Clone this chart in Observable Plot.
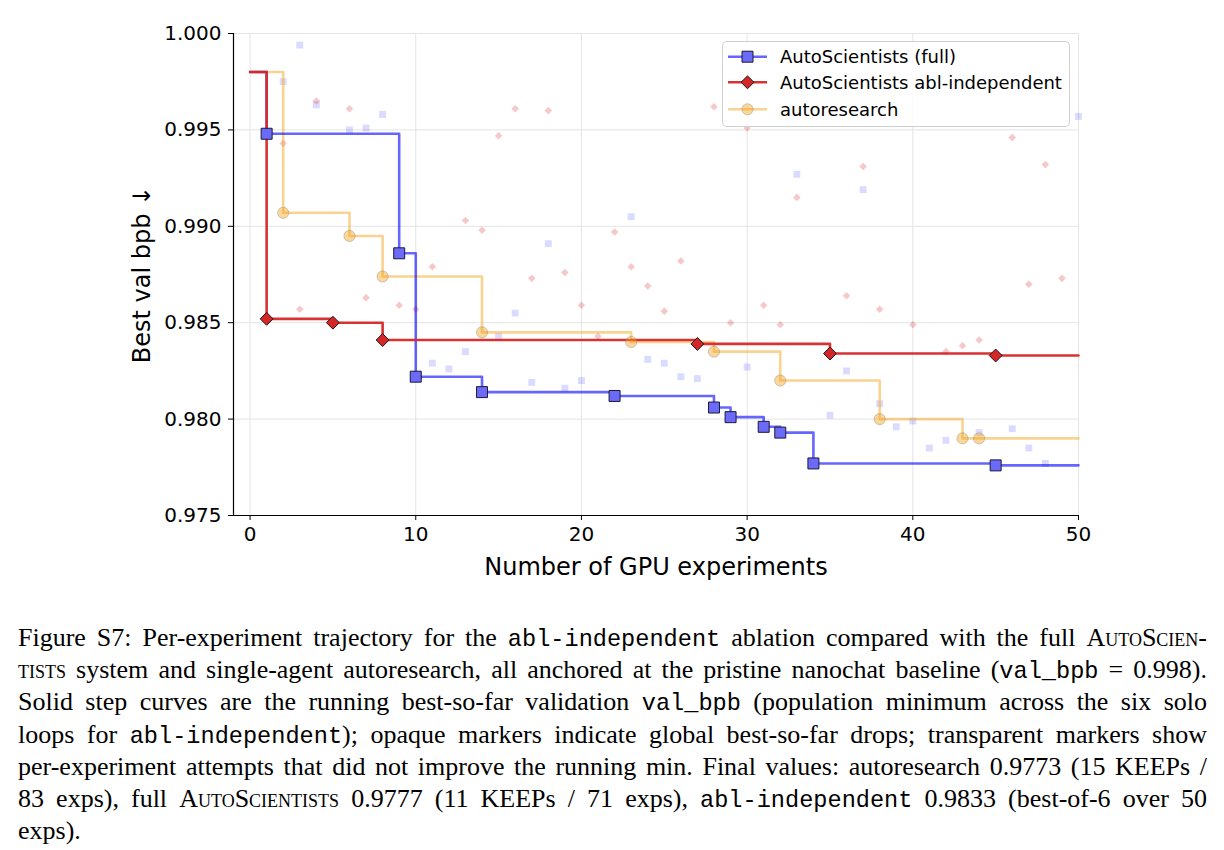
<!DOCTYPE html>
<html>
<head>
<meta charset="utf-8">
<script src="https://cdn.jsdelivr.net/npm/d3@7"></script>
<script src="https://cdn.jsdelivr.net/npm/@observablehq/plot@0.6"></script>
<style>
  body { margin: 0; background: #fff; width: 1224px; height: 850px; position: relative; overflow: hidden; }
  #chart { position: absolute; left: 0; top: 0; }
  #legend { position: absolute; left: 722px; top: 41px; }
  #caption {
    position: absolute; left: 18px; top: 622px; width: 1189px;
    font-family: "Liberation Serif", "Times New Roman", serif;
    font-size: 26px; color: #000;
  }
  #caption .ln { height: 32.2px; line-height: 32.2px; overflow: visible; text-align: justify; text-align-last: justify; white-space: nowrap; }
  #caption .ln.last { text-align: left; text-align-last: left; }
  #caption code { font-family: "Liberation Mono", "DejaVu Sans Mono", monospace; font-size: 23.6px; line-height: 0; }
  #caption .sc { font-variant: small-caps; }
</style>
</head>
<body>
<div id="chart"></div>
<div id="legend"></div>
<div id="caption">
  <div class="ln">Figure S7: Per-experiment trajectory for the <code>abl-independent</code> ablation compared with the full <span class="sc">AutoScien-</span></div>
  <div class="ln"><span class="sc">tists</span> system and single-agent autoresearch, all anchored at the pristine nanochat baseline (<code>val_bpb</code> = 0.998).</div>
  <div class="ln">Solid step curves are the running best-so-far validation <code>val_bpb</code> (population minimum across the six solo</div>
  <div class="ln">loops for <code>abl-independent</code>); opaque markers indicate global best-so-far drops; transparent markers show</div>
  <div class="ln">per-experiment attempts that did not improve the running min. Final values: autoresearch 0.9773 (15 KEEPs /</div>
  <div class="ln">83 exps), full <span class="sc">AutoScientists</span> 0.9777 (11 KEEPs / 71 exps), <code>abl-independent</code> 0.9833 (best-of-6 over 50</div>
  <div class="ln last">exps).</div>
</div>
<script>
// Axis ticks
const xTicks = [0, 10, 20, 30, 40, 50];
const yTicks = [0.975, 0.980, 0.985, 0.990, 0.995, 1.000];
const xMax = 50;
const baseline = 0.998; // pristine nanochat val_bpb, shared starting point

// Series names
const seriesNames = ["AutoScientists (full)", "AutoScientists abl-independent", "autoresearch"];

// Full system: experiments that lowered the global best
const fullKeepX = [1, 9, 10, 14, 22, 28, 29, 31, 32, 34, 45];
const fullKeepY = [0.9948, 0.9886, 0.9822, 0.9814, 0.9812, 0.9806, 0.9801, 0.9796, 0.9793, 0.9777, 0.9776];
// Full system: attempts that did not improve
const fullTryX = [2, 3, 4, 6, 7, 8, 11, 12, 13, 15, 16, 17, 18, 19, 20, 23, 24, 25, 26, 27, 30, 33, 35, 36, 37, 38, 39, 40, 41, 42, 44, 46, 47, 48, 50];
const fullTryY = [0.9975, 0.9994, 0.9963, 0.9950, 0.9951, 0.9958, 0.9829, 0.9826, 0.9835, 0.9843, 0.9855, 0.9819, 0.9891, 0.9816, 0.9820, 0.9905, 0.9831, 0.9829, 0.9822, 0.9821, 0.9827, 0.9927, 0.9802, 0.9825, 0.9919, 0.9808, 0.9796, 0.9799, 0.9785, 0.9789, 0.9793, 0.9795, 0.9785, 0.9777, 0.9957];

// abl-independent: best-so-far drops
const ablKeepX = [1, 5, 8, 27, 35, 45];
const ablKeepY = [0.9852, 0.9850, 0.9841, 0.9839, 0.9834, 0.9833];
// abl-independent: attempts that did not improve
const ablTryX = [2, 3, 4, 6, 7, 9, 10, 11, 13, 14, 15, 16, 17, 18, 19, 20, 21, 22, 23, 24, 25, 26, 28, 29, 30, 31, 32, 33, 36, 37, 38, 40, 42, 43, 44, 46, 47, 48, 49];
const ablTryY = [0.9943, 0.9857, 0.9965, 0.9961, 0.9863, 0.9859, 0.9857, 0.9879, 0.9903, 0.9898, 0.9947, 0.9961, 0.9873, 0.9960, 0.9876, 0.9859, 0.9843, 0.9897, 0.9879, 0.9869, 0.9856, 0.9882, 0.9962, 0.9850, 0.9951, 0.9859, 0.9849, 0.9915, 0.9864, 0.9931, 0.9857, 0.9849, 0.9835, 0.9838, 0.9841, 0.9946, 0.9870, 0.9932, 0.9873];

// autoresearch: best-so-far drops
const autoKeepX = [2, 6, 8, 14, 23, 28, 32, 38, 43, 44];
const autoKeepY = [0.9907, 0.9895, 0.9874, 0.9845, 0.9840, 0.9835, 0.9820, 0.9800, 0.9790, 0.9790];

const colors = { full: "#0000ff", abl: "#d62728", auto: "#f5a623" };

const pts = (xs, ys) => xs.map((x, i) => ({ x, y: ys[i] }));
// running best-so-far: baseline at 0, each drop, held to the end of the axis
const steps = (xs, ys) => [{ x: 0, y: baseline }, ...pts(xs, ys), { x: xMax, y: ys[ys.length - 1] }];

const fullKeep = pts(fullKeepX, fullKeepY);
const ablKeep = pts(ablKeepX, ablKeepY);
const autoKeep = pts(autoKeepX, autoKeepY);
const fullTry = pts(fullTryX, fullTryY);
const ablTry = pts(ablTryX, ablTryY);

const lineW = 2.6;

const chart = Plot.plot({
  width: 1224,
  height: 600,
  marginLeft: 233,
  marginRight: 146,
  marginTop: 33,
  marginBottom: 85,
  x: { domain: [-1, xMax], label: null },
  y: { domain: [0.975, 1.0], label: null },
  style: { fontFamily: "DejaVu Sans", fontSize: "20px", color: "#000", background: "#fff" },
  marks: [
    Plot.gridX(xTicks, { stroke: "#e4e4e4", strokeOpacity: 1, strokeWidth: 1 }),
    Plot.gridY(yTicks, { stroke: "#e4e4e4", strokeOpacity: 1, strokeWidth: 1 }),
    // non-improving attempts
    Plot.dot(fullTry, { x: "x", y: "y", symbol: "square", r: 3.9, fill: colors.full, fillOpacity: 0.14, stroke: "none" }),
    Plot.dot(ablTry, { x: "x", y: "y", symbol: "diamond2", r: 3.4, fill: colors.abl, fillOpacity: 0.25, stroke: "none" }),
    // running best-so-far curves
    Plot.line(steps(autoKeepX, autoKeepY), { x: "x", y: "y", curve: "step-after", stroke: colors.auto, strokeOpacity: 0.5, strokeWidth: lineW }),
    Plot.line(steps(fullKeepX, fullKeepY), { x: "x", y: "y", curve: "step-after", stroke: colors.full, strokeOpacity: 0.6, strokeWidth: lineW }),
    Plot.line(steps(ablKeepX, ablKeepY), { x: "x", y: "y", curve: "step-after", stroke: colors.abl, strokeOpacity: 0.95, strokeWidth: lineW }),
    // best-so-far drops
    Plot.dot(autoKeep, { x: "x", y: "y", r: 5.6, fill: colors.auto, fillOpacity: 0.45, stroke: "#777", strokeOpacity: 0.35, strokeWidth: 1 }),
    Plot.dot(fullKeep, { x: "x", y: "y", symbol: "square", r: 6.2, fill: "#6b6bf7", stroke: "#1a1a3a", strokeWidth: 1 }),
    Plot.dot(ablKeep, { x: "x", y: "y", symbol: "diamond2", r: 5.8, fill: colors.abl, stroke: "#1a1a1a", strokeWidth: 1 }),
    // spines
    Plot.ruleX([-1], { stroke: "#000", strokeWidth: 1.2 }),
    Plot.ruleY([0.975], { stroke: "#000", strokeWidth: 1.2 }),
    Plot.axisX(xTicks, { tickSize: 5, tickPadding: 6, fontSize: 20, label: null }),
    Plot.axisY(yTicks, { tickSize: 5, tickPadding: 7, fontSize: 20, tickFormat: d3.format(".3f"), label: null }),
    Plot.text(["Number of GPU experiments"], { frameAnchor: "bottom", lineAnchor: "middle", textAnchor: "middle", dy: 52, fontSize: 24 }),
    Plot.text(["Best val bpb ↓"], { frameAnchor: "left", textAnchor: "middle", lineAnchor: "middle", dx: -91, rotate: -90, fontSize: 24 })
  ]
});
document.getElementById("chart").append(chart);

// Legend
const lg = d3.select("#legend").append("svg")
  .attr("width", 350).attr("height", 88)
  .style("font-family", "DejaVu Sans");
lg.append("rect").attr("x", 0.5).attr("y", 0.5).attr("width", 347).attr("height", 85).attr("rx", 4)
  .attr("fill", "#fff").attr("fill-opacity", 0.85).attr("stroke", "#cfcfcf");
const rowsY = [15.7, 41.3, 68.3];
const sym = d3.symbol();
const legendItems = [
  { line: colors.full, lineOp: 0.6, shape: d3.symbolSquare, size: Math.PI * 6.2 * 6.2, fill: "#6b6bf7", fillOp: 1, stroke: "#1a1a3a", strokeOp: 1 },
  { line: colors.abl, lineOp: 0.95, shape: d3.symbolDiamond2, size: Math.PI * 5.8 * 5.8, fill: colors.abl, fillOp: 1, stroke: "#1a1a1a", strokeOp: 1 },
  { line: colors.auto, lineOp: 0.5, shape: d3.symbolCircle, size: Math.PI * 5.6 * 5.6, fill: colors.auto, fillOp: 0.45, stroke: "#777", strokeOp: 0.35 }
];
legendItems.forEach((it, i) => {
  const g = lg.append("g").attr("transform", `translate(0,${rowsY[i]})`);
  g.append("line").attr("x1", 6).attr("x2", 45).attr("stroke", it.line).attr("stroke-opacity", it.lineOp).attr("stroke-width", lineW);
  g.append("path").attr("transform", "translate(25.5,0)").attr("d", sym.type(it.shape).size(it.size)())
    .attr("fill", it.fill).attr("fill-opacity", it.fillOp).attr("stroke", it.stroke).attr("stroke-opacity", it.strokeOp);
  g.append("text").attr("x", 58).attr("dy", "0.35em").attr("font-size", 18).text(seriesNames[i]);
});
</script>
</body>
</html>
